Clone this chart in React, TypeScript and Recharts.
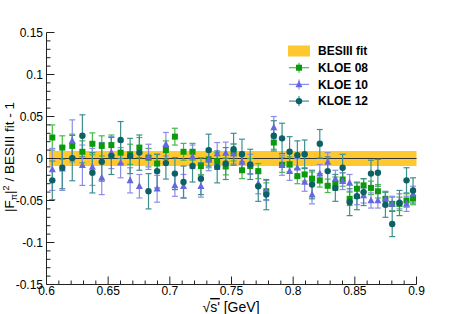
import { ScatterChart, Scatter, XAxis, YAxis, ErrorBar, ReferenceArea, ReferenceLine } from "recharts";

// sqrt(s') bin centres [GeV]
const energy = [
  0.6047, 0.6128, 0.6209, 0.6291, 0.6372, 0.6448, 0.6526, 0.6601, 0.6678, 0.6753,
  0.6827, 0.6897, 0.6968, 0.7041, 0.7111, 0.7184, 0.7252, 0.7315, 0.7384, 0.7453,
  0.7517, 0.7585, 0.7652, 0.7717, 0.7782, 0.7843, 0.791, 0.7971, 0.8034, 0.8093,
  0.8153, 0.8216, 0.828, 0.8342, 0.8401, 0.8458, 0.8517, 0.8571, 0.8631, 0.8687,
  0.8748, 0.8803, 0.8862, 0.8919, 0.8972,
];

const kloe08 = [
  0.025, 0.013, 0.015, 0.008, 0.0175, 0.015, 0.016, 0.007, 0.005, 0.013,
  0.001, -0.006, 0.01, 0.026, 0.008, 0.008, -0.009, -0.001, -0.003, -0.0095,
  0.007, -0.014, -0.009, -0.015, -0.039, 0.019, -0.0075, -0.007, -0.021, -0.019,
  -0.024, -0.026, -0.0325, -0.03, -0.025, -0.048, -0.036, -0.032, -0.035, -0.039,
  -0.048, -0.054, -0.054, -0.05, -0.047,
];
const kloe08Err = [
  0.015, 0.014, 0.014, 0.013, 0.013, 0.012, 0.012, 0.013, 0.012, 0.012,
  0.011, 0.011, 0.011, 0.01, 0.01, 0.01, 0.01, 0.01, 0.01, 0.01,
  0.01, 0.01, 0.009, 0.009, 0.01, 0.008, 0.009, 0.009, 0.009, 0.008,
  0.008, 0.008, 0.008, 0.008, 0.008, 0.008, 0.008, 0.008, 0.008, 0.008,
  0.008, 0.008, 0.008, 0.008, 0.008,
];

const kloe10 = [
  -0.013, -0.012, 0.021, -0.008, -0.01, -0.023, 0.007, -0.005, -0.026, -0.033,
  0.002, -0.036, 0.017, -0.032, -0.033, 0.002, -0.033, -0.0015, 0.006, 0.0065,
  0.0056, -0.004, -0.007, -0.03, -0.038, 0.037, -0.008, -0.015, -0.011, -0.028,
  -0.043, -0.018, -0.004, -0.024, -0.027, -0.029, -0.045, -0.044, -0.05, -0.05,
  -0.048, -0.054, -0.051, -0.054, -0.042,
];
const kloe10Err = [
  0.025, 0.026, 0.025, 0.024, 0.022, 0.02, 0.019, 0.018, 0.015, 0.014,
  0.015, 0.016, 0.014, 0.013, 0.014, 0.014, 0.013, 0.013, 0.013, 0.013,
  0.012, 0.012, 0.012, 0.012, 0.012, 0.013, 0.012, 0.011, 0.011, 0.011,
  0.011, 0.011, 0.011, 0.01, 0.01, 0.01, 0.01, 0.009, 0.009, 0.009,
  0.009, 0.009, 0.009, 0.009, 0.009,
];

const kloe12 = [
  -0.026, -0.011, 0.0005, 0.027, -0.017, -0.004, 0.003, 0.022, 0.003, 0.007,
  -0.039, -0.015, -0.0055, -0.018, -0.028, -0.009, -0.024, 0.01, -0.01, -0.006,
  0.011, 0.005, -0.007, -0.033, -0.043, 0.027, 0.024, 0.008, 0.004, 0.005,
  -0.031, 0.0175, -0.015, -0.035, -0.011, -0.052, -0.045, -0.04, -0.018, -0.017,
  -0.055, -0.078, -0.053, -0.026, -0.038,
];
const kloe12Err = [
  0.023, 0.025, 0.027, 0.025, 0.024, 0.023, 0.022, 0.022, 0.021, 0.021,
  0.021, 0.02, 0.019, 0.019, 0.019, 0.019, 0.019, 0.019, 0.019, 0.019,
  0.019, 0.018, 0.018, 0.018, 0.018, 0.018, 0.018, 0.018, 0.017, 0.017,
  0.017, 0.017, 0.017, 0.016, 0.016, 0.016, 0.016, 0.016, 0.016, 0.016,
  0.015, 0.015, 0.015, 0.015, 0.015,
];

// BESIII fit uncertainty band
const bandRange = [0.602, 0.9];
const bandHalfWidth = 0.009;

const xTicks = [
  0.6, 0.61, 0.62, 0.63, 0.64, 0.65, 0.66, 0.67, 0.68, 0.69, 0.7, 0.71, 0.72, 0.73, 0.74, 0.75,
  0.76, 0.77, 0.78, 0.79, 0.8, 0.81, 0.82, 0.83, 0.84, 0.85, 0.86, 0.87, 0.88, 0.89, 0.9,
];
const xMajor = [0.6, 0.65, 0.7, 0.75, 0.8, 0.85, 0.9];
const xLabels = ["0.6", "0.65", "0.7", "0.75", "0.8", "0.85", "0.9"];

const yTicks = [
  -0.15, -0.14, -0.13, -0.12, -0.11, -0.1, -0.09, -0.08, -0.07, -0.06, -0.05, -0.04, -0.03, -0.02, -0.01, 0,
  0.01, 0.02, 0.03, 0.04, 0.05, 0.06, 0.07, 0.08, 0.09, 0.1, 0.11, 0.12, 0.13, 0.14, 0.15,
];
const yMajor = [-0.15, -0.1, -0.05, 0, 0.05, 0.1, 0.15];
const yLabels = ["-0.15", "-0.1", "-0.05", "0", "0.05", "0.1", "0.15"];

const FONT = "'Liberation Sans', Arial, Helvetica, sans-serif";
const AXIS = "#222";
const BAND = "#ffc82e";

const series = [
  { name: "KLOE 08", y: kloe08, err: kloe08Err, color: "#0b9a0b", bar: "#43bd43", shape: "square" },
  { name: "KLOE 10", y: kloe10, err: kloe10Err, color: "#6767df", bar: "#8d8de9", shape: "triangle" },
  { name: "KLOE 12", y: kloe12, err: kloe12Err, color: "#0b6166", bar: "#3f8f8f", shape: "circle" },
];

const majorIndex = (v: number, majors: number[]) => majors.findIndex((m) => Math.abs(m - v) < 1e-6);

const Marker = ({ cx, cy, shape, color }: any) => {
  if (cx == null || cy == null) return null;
  if (shape === "square") return <rect x={cx - 3} y={cy - 3} width={6} height={6} fill={color} />;
  if (shape === "triangle")
    return <polygon points={`${cx},${cy - 4} ${cx - 3.5},${cy + 2.8} ${cx + 3.5},${cy + 2.8}`} fill={color} />;
  return <circle cx={cx} cy={cy} r={3.2} fill={color} />;
};

const BottomTick = ({ x, y, payload }: any) => {
  const i = majorIndex(payload.value, xMajor);
  return (
    <g>
      <line x1={x} x2={x} y1={y} y2={y - (i >= 0 ? 8 : 4)} stroke={AXIS} />
      {i >= 0 && (
        <text x={x} y={y + 10} textAnchor="middle" fontSize={12} fontFamily={FONT} fill="#000">
          {xLabels[i]}
        </text>
      )}
    </g>
  );
};

const TopTick = ({ x, y, payload }: any) => {
  const i = majorIndex(payload.value, xMajor);
  return <line x1={x} x2={x} y1={y} y2={y + (i >= 0 ? 8 : 4)} stroke={AXIS} />;
};

const LeftTick = ({ x, y, payload }: any) => {
  const i = majorIndex(payload.value, yMajor);
  return (
    <g>
      <line x1={x} x2={x + (i >= 0 ? 8 : 4)} y1={y} y2={y} stroke={AXIS} />
      {i >= 0 && (
        <text x={x - 3.5} y={y + 4.3} textAnchor="end" fontSize={12} fontFamily={FONT} fill="#000">
          {yLabels[i]}
        </text>
      )}
    </g>
  );
};

const RightTick = ({ x, y, payload }: any) => {
  const i = majorIndex(payload.value, yMajor);
  return <line x1={x} x2={x - (i >= 0 ? 8 : 4)} y1={y} y2={y} stroke={AXIS} />;
};

export default function App() {
  const data = series.map((s) => energy.map((x, i) => ({ x, y: s.y[i], err: s.err[i] })));

  return (
    <div style={{ position: "absolute", left: 0, top: 0, width: 463, height: 314, background: "#fff" }}>
      <ScatterChart width={463} height={314} margin={{ top: 32.5, right: 46.5, bottom: 0.5, left: 6.5 }}>
        <XAxis
          xAxisId="top"
          orientation="top"
          type="number"
          dataKey="x"
          domain={[0.6, 0.9]}
          allowDataOverflow
          ticks={xTicks}
          interval={0}
          height={0}
          tickSize={0}
          tickMargin={0}
          tickLine={false}
          tick={(p: any) => <TopTick {...p} />}
          axisLine={{ stroke: AXIS }}
        />
        <XAxis
          type="number"
          dataKey="x"
          domain={[0.6, 0.9]}
          allowDataOverflow
          ticks={xTicks}
          interval={0}
          height={29}
          tickSize={0}
          tickMargin={0}
          tickLine={false}
          tick={(p: any) => <BottomTick {...p} />}
          axisLine={{ stroke: AXIS }}
        />
        <YAxis
          type="number"
          dataKey="y"
          domain={[-0.15, 0.15]}
          allowDataOverflow
          ticks={yTicks}
          interval={0}
          width={40}
          tickSize={0}
          tickMargin={0}
          tickLine={false}
          tick={(p: any) => <LeftTick {...p} />}
          axisLine={{ stroke: AXIS }}
        />
        <YAxis
          yAxisId="right"
          orientation="right"
          type="number"
          dataKey="y"
          domain={[-0.15, 0.15]}
          allowDataOverflow
          ticks={yTicks}
          interval={0}
          width={0}
          tickSize={0}
          tickMargin={0}
          tickLine={false}
          tick={(p: any) => <RightTick {...p} />}
          axisLine={{ stroke: AXIS }}
        />
        <ReferenceArea
          x1={bandRange[0]}
          x2={bandRange[1]}
          y1={-bandHalfWidth}
          y2={bandHalfWidth}
          fill={BAND}
          fillOpacity={1}
          stroke="none"
        />
        <ReferenceLine
          segment={[
            { x: bandRange[0], y: 0 },
            { x: bandRange[1], y: 0 },
          ]}
          stroke="#333"
          strokeWidth={1.2}
        />
        {series.map((s, k) => (
          <Scatter
            key={s.name}
            name={s.name}
            data={data[k]}
            isAnimationActive={false}
            shape={(p: any) => <Marker cx={p.cx} cy={p.cy} shape={s.shape} color={s.color} />}
          >
            <ErrorBar dataKey="err" direction="y" width={3} stroke={s.bar} strokeWidth={1.2} />
          </Scatter>
        ))}
      </ScatterChart>

      <svg width={463} height={314} style={{ position: "absolute", left: 0, top: 0, pointerEvents: "none" }}>
        {/* axis titles */}
        <text
          transform="translate(14,157) rotate(-90)"
          textAnchor="middle"
          fontSize={13.5}
          fontFamily={FONT}
          fill="#000"
        >
          |F<tspan dy={3} fontSize={9}>π</tspan>
          <tspan dy={-3}>|</tspan>
          <tspan dy={-5} fontSize={9}>2</tspan>
          <tspan dy={5}> / BESIII fit - 1</tspan>
        </text>
        <text x={231} y={312} textAnchor="middle" fontSize={14} fontFamily={FONT} fill="#000">
          √<tspan style={{ textDecoration: "overline" }}>s'</tspan> [GeV]
        </text>

        {/* legend */}
        <rect x={288} y={45.5} width={22} height={11} fill={BAND} />
        <text x={318} y={55} fontSize={12} fontWeight="bold" fontFamily={FONT} fill="#000">
          BESIII fit
        </text>
        {series.map((s, k) => {
          const ly = 67.7 + k * 16.7;
          return (
            <g key={s.name}>
              <line x1={289} x2={309} y1={ly} y2={ly} stroke={s.bar} strokeWidth={1.2} />
              <line x1={299} x2={299} y1={ly - 5} y2={ly + 5} stroke={s.bar} strokeWidth={1.2} />
              <Marker cx={299} cy={ly} shape={s.shape} color={s.color} />
              <text x={318} y={ly + 4.3} fontSize={12} fontWeight="bold" fontFamily={FONT} fill="#000">
                {s.name}
              </text>
            </g>
          );
        })}
      </svg>
    </div>
  );
}
